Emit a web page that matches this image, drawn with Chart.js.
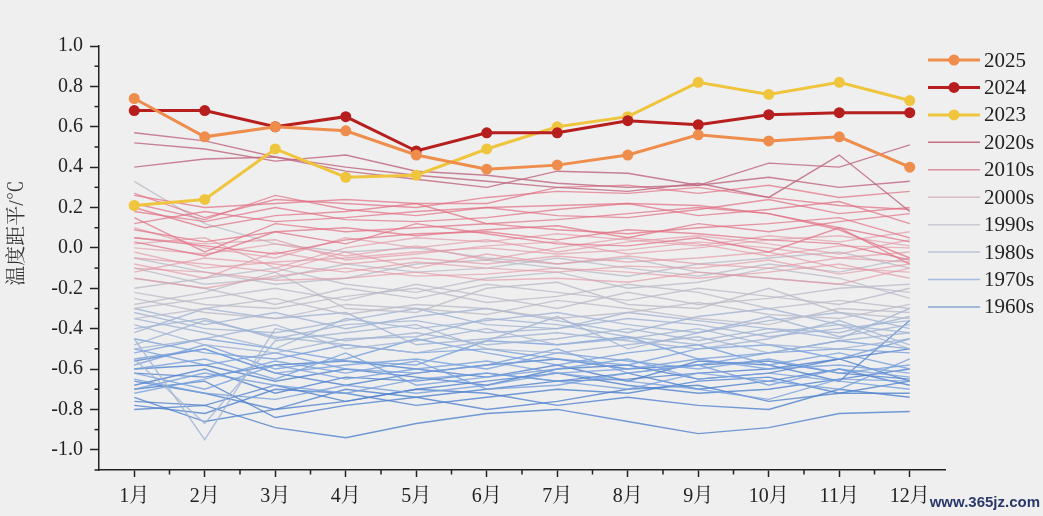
<!DOCTYPE html>
<html><head><meta charset="utf-8">
<script src="https://cdn.jsdelivr.net/npm/chart.js@4.4.1/dist/chart.umd.min.js"></script>
<style>html,body{margin:0;padding:0;background:#efefef;overflow:hidden}#wrap{width:1043px;height:516px;position:relative}</style>
</head><body><div id="wrap"><canvas id="c"></canvas></div>
<script>
const months = ['1月','2月','3月','4月','5月','6月','7月','8月','9月','10月','11月','12月'];
const yTicks = [-1.0,-0.8,-0.6,-0.4,-0.2,0.0,0.2,0.4,0.6,0.8,1.0];
const yTickLabels = ['-1.0','-0.8','-0.6','-0.4','-0.2','0.0','0.2','0.4','0.6','0.8','1.0'];
const yMinorTicks = [-1.1,-0.9,-0.7,-0.5,-0.3,-0.1,0.1,0.3,0.5,0.7,0.9];
const yAxisTitle = '温度距平/℃';

const mainLabels = ['2025','2024','2023'];
const y2025 = [0.74,0.55,0.60,0.58,0.46,0.39,0.41,0.46,0.56,0.53,0.55,0.40];
const y2024 = [0.68,0.68,0.60,0.65,0.48,0.57,0.57,0.63,0.61,0.66,0.67,0.67];
const y2023 = [0.21,0.24,0.49,0.35,0.36,0.49,0.60,0.65,0.82,0.76,0.82,0.73];

const decadeLabels = ['2020s','2010s','2000s','1990s','1980s','1970s','1960s'];
const d2020s = [
 [0.57,0.53,0.45,0.40,0.36,0.33,0.30,0.28,0.32,0.25,0.46,0.18],
 [0.52,0.49,0.43,0.46,0.38,0.36,0.32,0.30,0.31,0.35,0.30,0.33],
 [0.40,0.44,0.45,0.38,0.34,0.30,0.38,0.37,0.31,0.42,0.40,0.51]
];
const d2010s = [
 [0.27,0.15,0.24,0.22,0.20,0.25,0.28,0.27,0.30,0.25,0.21,0.19],
 [0.26,0.20,0.22,0.24,0.22,0.22,0.30,0.31,0.27,0.31,0.25,0.28],
 [0.20,0.10,0.16,0.18,0.22,0.12,0.14,0.17,0.20,0.17,0.10,0.03],
 [0.22,0.14,0.26,0.19,0.16,0.20,0.16,0.15,0.19,0.24,0.17,0.20],
 [0.15,-0.02,0.12,0.08,0.10,0.12,0.09,0.07,0.10,0.12,0.15,0.05],
 [0.12,0.18,0.13,0.15,0.18,0.20,0.21,0.22,0.21,0.17,0.09,-0.05],
 [0.09,0.03,0.08,0.10,0.06,0.09,0.11,0.05,0.12,0.08,0.13,0.17],
 [0.05,0.01,-0.03,0.04,0.07,0.08,0.04,0.09,0.07,0.04,0.02,-0.06],
 [0.03,-0.04,0.08,0.02,0.12,0.07,0.02,0.01,0.05,-0.02,0.10,-0.08],
 [0.18,0.13,0.20,0.14,0.13,0.15,0.19,0.22,0.16,0.19,0.23,0.12]
];
const d2000s = [
 [-0.02,-0.10,-0.07,-0.05,-0.02,0.00,-0.03,-0.01,0.03,0.00,-0.05,-0.02],
 [0.02,0.05,-0.10,0.00,0.05,0.03,0.07,0.04,0.01,0.06,0.03,0.08],
 [-0.08,-0.15,-0.02,-0.08,-0.05,-0.08,-0.04,-0.07,-0.05,-0.02,-0.10,-0.12],
 [0.10,0.00,-0.05,0.05,0.00,0.04,-0.02,0.03,0.06,0.02,-0.03,0.04],
 [-0.05,-0.08,-0.12,-0.02,-0.10,-0.03,-0.08,-0.04,-0.08,-0.10,-0.05,-0.07],
 [0.00,-0.03,0.02,-0.04,0.01,-0.06,0.00,0.05,0.02,-0.04,0.01,0.00],
 [-0.12,-0.05,-0.08,-0.12,-0.07,-0.10,-0.12,-0.09,-0.10,-0.06,-0.13,-0.08],
 [0.05,0.02,0.04,-0.06,-0.03,0.01,0.03,-0.03,0.00,0.04,0.06,0.01],
 [-0.15,-0.20,-0.14,-0.10,-0.14,-0.13,-0.10,-0.12,-0.15,-0.12,-0.08,-0.15],
 [-0.10,-0.12,-0.16,-0.15,-0.12,-0.16,-0.15,-0.17,-0.12,-0.15,-0.18,-0.10]
];
const d1990s = [
 [-0.20,-0.15,-0.10,-0.18,-0.22,-0.15,-0.12,-0.20,-0.17,-0.10,-0.15,-0.25],
 [-0.30,-0.25,-0.20,-0.26,-0.18,-0.24,-0.30,-0.22,-0.28,-0.25,-0.20,-0.18],
 [-0.25,-0.32,-0.35,-0.28,-0.30,-0.33,-0.26,-0.30,-0.35,-0.38,-0.30,-0.32],
 [-0.15,-0.20,-0.28,-0.20,-0.25,-0.18,-0.22,-0.26,-0.20,-0.24,-0.28,-0.20],
 [-0.10,-0.18,-0.15,-0.08,-0.12,-0.10,-0.05,-0.10,-0.14,-0.08,-0.12,-0.05],
 [-0.22,-0.28,-0.30,-0.24,-0.20,-0.27,-0.24,-0.18,-0.22,-0.30,-0.26,-0.30],
 [-0.35,-0.30,-0.25,-0.33,-0.28,-0.30,-0.35,-0.32,-0.27,-0.33,-0.35,-0.28],
 [-0.05,-0.12,-0.18,-0.15,-0.08,-0.06,-0.10,-0.14,-0.08,-0.05,-0.02,-0.10],
 [0.33,0.12,0.02,-0.02,0.00,-0.05,-0.08,-0.05,-0.12,-0.15,-0.18,-0.22],
 [-0.28,-0.22,-0.12,-0.30,-0.32,-0.20,-0.17,-0.28,-0.30,-0.20,-0.32,-0.35]
];
const d1980s = [
 [-0.40,-0.35,-0.45,-0.38,-0.36,-0.42,-0.40,-0.35,-0.38,-0.44,-0.40,-0.36],
 [-0.30,-0.38,-0.32,-0.40,-0.34,-0.30,-0.36,-0.42,-0.34,-0.30,-0.38,-0.42],
 [-0.45,-0.95,-0.40,-0.46,-0.42,-0.48,-0.45,-0.40,-0.46,-0.40,-0.45,-0.30],
 [-0.35,-0.42,-0.50,-0.35,-0.40,-0.36,-0.32,-0.38,-0.42,-0.36,-0.32,-0.40],
 [-0.50,-0.45,-0.38,-0.50,-0.46,-0.40,-0.48,-0.45,-0.40,-0.48,-0.50,-0.45],
 [-0.42,-0.30,-0.35,-0.32,-0.48,-0.45,-0.42,-0.46,-0.50,-0.45,-0.36,-0.48],
 [-0.55,-0.87,-0.46,-0.42,-0.38,-0.50,-0.52,-0.48,-0.44,-0.52,-0.46,-0.42],
 [-0.32,-0.40,-0.42,-0.36,-0.30,-0.38,-0.40,-0.32,-0.36,-0.40,-0.42,-0.34],
 [-0.38,-0.48,-0.52,-0.45,-0.44,-0.35,-0.38,-0.44,-0.48,-0.42,-0.38,-0.50],
 [-0.48,-0.36,-0.44,-0.48,-0.52,-0.46,-0.34,-0.50,-0.42,-0.34,-0.44,-0.38]
];
const d1970s = [
 [-0.55,-0.50,-0.62,-0.58,-0.55,-0.60,-0.52,-0.56,-0.60,-0.55,-0.62,-0.58],
 [-0.62,-0.70,-0.58,-0.65,-0.60,-0.56,-0.62,-0.60,-0.55,-0.60,-0.58,-0.62],
 [-0.45,-0.52,-0.55,-0.48,-0.52,-0.50,-0.55,-0.58,-0.50,-0.48,-0.55,-0.45],
 [-0.58,-0.48,-0.60,-0.55,-0.45,-0.52,-0.58,-0.52,-0.48,-0.58,-0.52,-0.60],
 [-0.70,-0.62,-0.68,-0.72,-0.65,-0.62,-0.66,-0.70,-0.62,-0.66,-0.70,-0.55],
 [-0.50,-0.58,-0.52,-0.60,-0.62,-0.58,-0.50,-0.62,-0.58,-0.52,-0.50,-0.52],
 [-0.65,-0.72,-0.75,-0.68,-0.72,-0.68,-0.62,-0.66,-0.70,-0.75,-0.65,-0.66],
 [-0.52,-0.45,-0.50,-0.56,-0.58,-0.46,-0.48,-0.44,-0.55,-0.52,-0.46,-0.50],
 [-0.60,-0.55,-0.65,-0.52,-0.68,-0.64,-0.60,-0.55,-0.65,-0.62,-0.66,-0.70],
 [-0.72,-0.65,-0.56,-0.62,-0.56,-0.70,-0.68,-0.62,-0.58,-0.68,-0.60,-0.64]
];
const d1960s = [
 [-0.66,-0.72,-0.80,-0.76,-0.70,-0.66,-0.62,-0.68,-0.72,-0.70,-0.65,-0.60],
 [-0.78,-0.82,-0.70,-0.72,-0.78,-0.74,-0.70,-0.72,-0.66,-0.64,-0.72,-0.66],
 [-0.56,-0.50,-0.62,-0.68,-0.62,-0.58,-0.55,-0.60,-0.58,-0.56,-0.62,-0.65],
 [-0.70,-0.66,-0.84,-0.78,-0.74,-0.70,-0.66,-0.65,-0.62,-0.60,-0.55,-0.50],
 [-0.80,-0.78,-0.89,-0.94,-0.87,-0.82,-0.80,-0.86,-0.92,-0.89,-0.82,-0.81],
 [-0.60,-0.58,-0.66,-0.60,-0.64,-0.68,-0.60,-0.58,-0.65,-0.62,-0.55,-0.66],
 [-0.74,-0.86,-0.80,-0.70,-0.74,-0.80,-0.76,-0.70,-0.68,-0.76,-0.72,-0.72],
 [-0.68,-0.60,-0.72,-0.64,-0.66,-0.62,-0.66,-0.62,-0.70,-0.66,-0.60,-0.68],
 [-0.76,-0.78,-0.68,-0.76,-0.70,-0.72,-0.78,-0.74,-0.78,-0.80,-0.70,-0.74],
 [-0.62,-0.64,-0.58,-0.56,-0.60,-0.64,-0.58,-0.66,-0.56,-0.58,-0.66,-0.36]
];
const decadeData = [d2020s,d2010s,d2000s,d1990s,d1980s,d1970s,d1960s];

const mainColors = ['#EE8D4C','#B71E1E','#EEC53C'];
const decadeColors = ['rgba(190,100,125,0.8)','rgba(225,110,128,0.7)','rgba(228,150,165,0.65)','rgba(185,185,200,0.75)','rgba(160,180,212,0.8)','rgba(120,160,220,0.8)','rgba(80,130,205,0.8)'];
const legendDecadeColors = ['#c4707f','#dc93a0','#dcbcc3','#c8c9d2','#b9c5d8','#a4bddf','#86a6d2'];
const watermark = 'www.365jz.com';

const FONT = "'Liberation Serif','Noto Serif CJK SC','Noto Sans CJK SC',serif";

const datasets = [];
[y2025,y2024,y2023].forEach((d,i)=>{
  datasets.push({label:mainLabels[i],data:d,borderColor:mainColors[i],backgroundColor:mainColors[i],
    borderWidth:3,pointRadius:5.5,pointHoverRadius:5.5,pointBorderWidth:0,pointBackgroundColor:mainColors[i],tension:0});
});
decadeData.forEach((group,gi)=>{
  group.forEach((d,j)=>{
    datasets.push({label:decadeLabels[gi]+'-'+j,data:d,borderColor:decadeColors[gi],borderWidth:1.4,pointRadius:0,tension:0});
  });
});

const extras = {
  id:'extras',
  afterDraw(chart){
    const {ctx, chartArea:ca, scales:{x,y}} = chart;
    ctx.save();
    ctx.strokeStyle='#222'; ctx.lineWidth=1.5;
    yMinorTicks.forEach(v=>{
      const py=y.getPixelForValue(v);
      ctx.beginPath(); ctx.moveTo(ca.left-4.5,py); ctx.lineTo(ca.left,py); ctx.stroke();
    });
    for(let i=0;i<months.length-1;i++){
      const px=x.getPixelForValue(i+0.5);
      ctx.beginPath(); ctx.moveTo(px,ca.bottom); ctx.lineTo(px,ca.bottom+4.5); ctx.stroke();
    }
    // y title
    ctx.save();
    ctx.translate(18,233); ctx.rotate(-Math.PI/2);
    ctx.font='20px '+FONT; ctx.fillStyle='#333'; ctx.textAlign='center'; ctx.textBaseline='middle';
    ctx.fillText(yAxisTitle,0,0);
    ctx.restore();
    // legend
    const items=[];
    mainLabels.forEach((t,i)=>items.push({text:t,color:mainColors[i],lw:3,dot:true}));
    decadeLabels.forEach((t,i)=>items.push({text:t,color:legendDecadeColors[i],lw:1.5,dot:false}));
    const x0=ca.right-17, x1=x0+52, tx=x1+4;
    ctx.font='21px '+FONT; ctx.textBaseline='middle'; ctx.textAlign='left';
    items.forEach((it,i)=>{
      const py=ca.top+14+i*27.44;
      ctx.strokeStyle=it.color; ctx.lineWidth=it.lw;
      ctx.beginPath(); ctx.moveTo(x0,py); ctx.lineTo(x1,py); ctx.stroke();
      if(it.dot){ ctx.fillStyle=it.color; ctx.beginPath(); ctx.arc((x0+x1)/2,py,5.5,0,Math.PI*2); ctx.fill(); }
      ctx.fillStyle='#222'; ctx.fillText(it.text,tx,py+1);
    });
    ctx.font='bold 15px '+"'Liberation Sans',sans-serif"; ctx.fillStyle='#2a3a6a'; ctx.textAlign='right';
    ctx.fillText(watermark,1040,503);
    ctx.restore();
  }
};

new Chart(document.getElementById('c'),{
  type:'line',
  data:{labels:months,datasets},
  options:{
    responsive:true,maintainAspectRatio:false,animation:false,
    layout:{padding:{top:46,right:98,left:0,bottom:0}},
    plugins:{legend:{display:false},tooltip:{enabled:false}},
    scales:{
      x:{offset:true,
        grid:{offset:false,drawOnChartArea:false,drawTicks:true,tickLength:7,tickColor:'#222',tickWidth:1.5},
        border:{display:true,color:'#222',width:1.5},
        ticks:{color:'#222',font:{family:FONT,size:20},padding:8,maxRotation:0},
        afterFit(s){s.height=46;}
      },
      y:{min:-1.1,max:1.0,
        afterBuildTicks(s){s.ticks=yTicks.map(v=>({value:v}));},
        grid:{drawOnChartArea:false,drawTicks:true,tickLength:9,tickColor:'#222',tickWidth:1.5},
        border:{display:true,color:'#222',width:1.5},
        ticks:{color:'#222',font:{family:FONT,size:20},padding:7,callback:(v,i)=>yTickLabels[i]},
        afterFit(s){s.width=99;}
      }
    }
  },
  plugins:[extras]
});
</script></body></html>
